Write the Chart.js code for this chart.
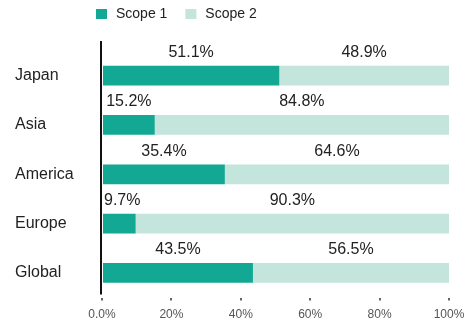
<!DOCTYPE html>
<html>
<head>
<meta charset="utf-8">
<script src="https://cdn.jsdelivr.net/npm/chart.js@4/dist/chart.umd.min.js"></script>
<style>
  html, body { margin: 0; padding: 0; background: #fff; }
  #wrap { width: 473px; height: 329px; position: relative; }
</style>
</head>
<body>
<div id="wrap"><canvas id="scopeChart"></canvas></div>
<script>
const regions = ['Japan', 'Asia', 'America', 'Europe', 'Global'];
const scope1 = [51.1, 15.2, 35.4, 9.7, 43.5];
const scope2 = [48.9, 84.8, 64.6, 90.3, 56.5];
const seriesNames = ['Scope 1', 'Scope 2'];

const TEAL = '#12a893';
const MINT = '#c3e5dc';

Chart.defaults.font.family = "'Liberation Sans', Arial, sans-serif";

// legend drawn by hand so it can sit just right of the axis
const topLegend = {
  id: 'topLegend',
  afterDraw(chart) {
    const ctx = chart.ctx;
    ctx.save();
    ctx.font = "14px 'Liberation Sans', Arial, sans-serif";
    ctx.textBaseline = 'middle';
    ctx.textAlign = 'left';
    let x = chart.chartArea.left - 6;
    const y = 14;
    chart.data.datasets.forEach(ds => {
      ctx.fillStyle = ds.backgroundColor;
      ctx.fillRect(x, y - 5, 11, 10);
      x += 11 + 9;
      ctx.fillStyle = '#222';
      ctx.fillText(ds.label, x, y + 0.5);
      x += ctx.measureText(ds.label).width + 18;
    });
    ctx.restore();
  }
};

// percentage above each segment, plus the black vertical axis line
const segmentLabels = {
  id: 'segmentLabels',
  afterDatasetsDraw(chart) {
    const ctx = chart.ctx;
    const area = chart.chartArea;
    ctx.save();
    ctx.font = "16px 'Liberation Sans', Arial, sans-serif";
    ctx.fillStyle = '#222';
    ctx.textAlign = 'center';
    ctx.textBaseline = 'middle';
    chart.data.datasets.forEach((ds, i) => {
      chart.getDatasetMeta(i).data.forEach((bar, j) => {
        const text = ds.data[j].toFixed(1) + '%';
        const half = ctx.measureText(text).width / 2;
        // keep short segments' labels clear of the axis line
        const cx = Math.max((bar.base + bar.x) / 2, area.left + half + 2);
        ctx.fillText(text, cx, bar.y - 23);
      });
    });
    ctx.strokeStyle = '#111';
    ctx.lineWidth = 2;
    ctx.beginPath();
    ctx.moveTo(area.left - 1, area.top - 10);
    ctx.lineTo(area.left - 1, area.bottom - 3);
    ctx.stroke();
    ctx.restore();
  }
};

new Chart(document.getElementById('scopeChart'), {
  type: 'bar',
  data: {
    labels: regions,
    datasets: [
      { label: seriesNames[0], data: scope1, backgroundColor: TEAL },
      { label: seriesNames[1], data: scope2, backgroundColor: MINT }
    ]
  },
  options: {
    indexAxis: 'y',
    responsive: true,
    maintainAspectRatio: false,
    animation: false,
    layout: { padding: { left: 15, top: 51, right: 24, bottom: 0 } },
    datasets: { bar: { barPercentage: 0.4, categoryPercentage: 1 } },
    plugins: {
      legend: { display: false },
      tooltip: { enabled: false }
    },
    scales: {
      x: {
        stacked: true,
        min: 0,
        max: 100,
        border: { display: false },
        grid: { drawOnChartArea: false, drawTicks: true, tickLength: 3, color: '#666', lineWidth: 2 },
        ticks: {
          stepSize: 20,
          padding: 7,
          color: '#555',
          font: { size: 12 },
          callback: v => (v === 0 ? '0.0%' : v + '%')
        }
      },
      y: {
        stacked: true,
        border: { display: false },
        grid: { display: false },
        afterFit: scale => { scale.width = 87; },
        ticks: {
          crossAlign: 'far',
          color: '#222',
          font: { size: 16 }
        }
      }
    }
  },
  plugins: [topLegend, segmentLabels]
});
</script>
</body>
</html>
